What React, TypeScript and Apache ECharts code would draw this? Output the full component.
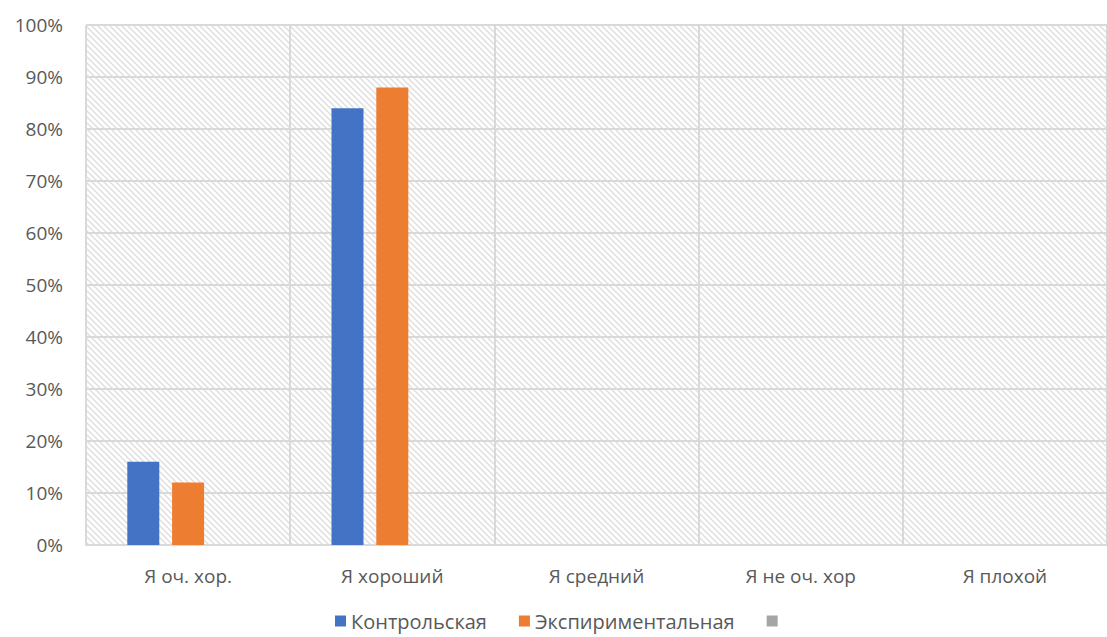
import React, { useEffect, useRef } from "react";
import * as echarts from "echarts";

// Self-assessment categories and the share of each group (percent)
const categories = ["Я оч. хор.", "Я хороший", "Я средний", "Я не оч. хор", "Я плохой"];
const controlGroup = [16, 84, 0, 0, 0];
const experimentalGroup = [12, 88, 0, 0, 0];
const thirdGroup: (number | null)[] = [null, null, null, null, null];
const yTicks = [0, 10, 20, 30, 40, 50, 60, 70, 80, 90, 100];

const seriesNames = ["Контрольская", "Экспириментальная", " "];
const seriesColors = ["#4472C4", "#ED7D31", "#A5A5A5"];

// Light "wide downward diagonal" hatch tile for the plot area
function makeHatch(): HTMLCanvasElement {
  const size = 6;
  const c = document.createElement("canvas");
  c.width = size;
  c.height = size;
  const ctx = c.getContext("2d")!;
  ctx.fillStyle = "#ffffff";
  ctx.fillRect(0, 0, size, size);
  ctx.strokeStyle = "#dedede";
  ctx.lineWidth = 1.4;
  ctx.beginPath();
  ctx.moveTo(-1, -1);
  ctx.lineTo(size + 1, size + 1);
  ctx.moveTo(-1, size - 1);
  ctx.lineTo(1, size + 1);
  ctx.moveTo(size - 1, -1);
  ctx.lineTo(size + 1, 1);
  ctx.stroke();
  return c;
}

export default function App() {
  const ref = useRef<HTMLDivElement>(null);

  useEffect(() => {
    if (!ref.current) return;
    const chart = echarts.init(ref.current, undefined, { renderer: "svg" });
    const hatch = makeHatch();
    const font = "'Open Sans', 'Noto Sans', sans-serif";

    chart.setOption({
      animation: false,
      backgroundColor: "#ffffff",
      textStyle: { fontFamily: font },
      grid: { left: 86, top: 25, width: 1029, height: 520, containLabel: false },
      legend: {
        data: seriesNames,
        top: 606,
        left: 330,
        padding: 5,
        itemWidth: 11,
        itemHeight: 11,
        itemGap: 32,
        icon: "rect",
        textStyle: { fontSize: 20, lineHeight: 20, color: "#595959", fontFamily: font },
      },
      xAxis: {
        type: "category",
        data: categories,
        z: 0,
        axisTick: { show: false },
        axisLine: { show: true, lineStyle: { color: "#d9d9d9", width: 2 } },
        axisLabel: { fontSize: 19, color: "#595959", margin: 21 },
        splitLine: { show: true, lineStyle: { color: "#d9d9d9", width: 2 } },
        splitArea: {
          show: true,
          areaStyle: { color: [{ image: hatch, repeat: "repeat" }] },
        },
      },
      yAxis: {
        type: "value",
        z: 1,
        min: yTicks[0],
        max: yTicks[yTicks.length - 1],
        interval: 10,
        axisLine: { show: false },
        axisTick: { show: false },
        axisLabel: { fontSize: 19, color: "#595959", margin: 23, formatter: "{value}%" },
        splitLine: { show: true, lineStyle: { color: "#d9d9d9", width: 2 } },
      },
      series: [controlGroup, experimentalGroup, thirdGroup].map((d, i) => ({
        name: seriesNames[i],
        type: "bar",
        z: 3,
        data: d,
        barWidth: 32,
        barGap: "40%",
        itemStyle: { color: seriesColors[i] },
      })),
    });

    return () => chart.dispose();
  }, []);

  return (
    <div
      ref={ref}
      style={{ position: "fixed", left: 0, top: 0, width: 1107, height: 637 }}
    />
  );
}
